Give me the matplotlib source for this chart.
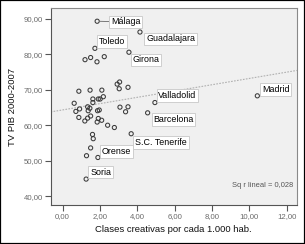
import numpy as np
import matplotlib
matplotlib.use("Agg")
import matplotlib.pyplot as plt
from matplotlib.patches import Rectangle

# ---- data ----
clases_creativas = [
    1.85, 4.14, 1.73, 3.55, 1.20, 1.50, 1.84, 2.23, 2.92, 3.05,
    3.03, 3.50, 0.87, 1.47, 2.10, 2.18, 2.01, 1.91, 1.62, 1.62,
    0.62, 1.34, 1.46, 1.37, 1.87, 1.96, 0.91, 0.71, 3.07, 3.50,
    3.37, 4.55, 4.94, 10.42, 0.87, 1.19, 1.34, 1.50, 1.91, 2.09,
    1.85, 2.41, 2.77, 1.60, 1.64, 1.50, 1.28, 1.89, 1.26, 3.67,
]
tv_pib = [
    89.35, 86.3, 81.7, 80.6, 78.5, 79.1, 77.9, 79.35, 71.6, 72.2,
    70.3, 70.7, 69.6, 69.9, 69.9, 68.05, 67.4, 67.4, 67.4, 66.4,
    66.2, 65.2, 64.8, 64.1, 64.1, 64.3, 64.6, 63.9, 65.1, 65.2,
    63.8, 63.5, 66.4, 68.3, 62.2, 61.2, 62.0, 62.6, 61.9, 61.4,
    60.9, 60.0, 59.35, 57.4, 56.2, 53.6, 51.4, 50.9, 44.8, 57.6,
]
point_names = [
    "Málaga", "Guadalajara", "Toledo", "Girona", "", "", "", "", "", "",
    "", "", "", "", "", "", "", "", "", "",
    "", "", "", "", "", "", "", "", "", "",
    "", "Barcelona", "Valladolid", "Madrid", "", "", "", "", "", "",
    "", "", "", "", "", "", "", "Orense", "Soria", "S.C. Tenerife",
]
x_ticks = [0, 2, 4, 6, 8, 10, 12]
y_ticks = [40, 50, 60, 70, 80, 90]
r2_text = "Sq r lineal = 0,028"
x_title = "Clases creativas por cada 1.000 hab."
y_title = "TV PIB 2000-2007"

# label offsets (points) - styling
label_offsets = {
    "Málaga": (9.9, -0.5), "Guadalajara": (4.4, -5.0), "Toledo": (2.5, 5.0),
    "Girona": (2.7, -5.5), "Valladolid": (2.5, 5.0), "Barcelona": (4.1, -5.0),
    "Madrid": (3.2, 4.6), "S.C. Tenerife": (2.9, -6.5), "Orense": (2.7, 4.5),
    "Soria": (2.9, 5.0),
}

plt.rcParams['font.family'] = ['Liberation Sans', 'DejaVu Sans']

fig = plt.figure(figsize=(3.05, 2.44), dpi=100)
ax = fig.add_axes([0.166, 0.160, 0.807, 0.806])
ax.set_facecolor('#f0f0f0')

x = np.array(clases_creativas)
y = np.array(tv_pib)

# regression line
slope, intercept = np.polyfit(x, y, 1)
xl = np.array([-0.64, 12.53])
ax.plot(xl, intercept + slope * xl, color='#b0b0b0', lw=0.8,
        linestyle=(0, (1.5, 1.2)), zorder=1)

ax.scatter(x, y, s=9, facecolors='none', edgecolors='#3a3a3a',
           linewidths=0.75, zorder=3)

for xi, yi, name in zip(x, y, point_names):
    if not name:
        continue
    dx, dy = label_offsets[name]
    kw = {}
    if name == "Málaga":
        kw['arrowprops'] = dict(arrowstyle='-', color='#666666', lw=0.6,
                                shrinkA=0, shrinkB=2)
    ax.annotate(name, (xi, yi), xytext=(dx, dy), textcoords='offset points',
                ha='left', va='center', fontsize=6.4, color='#000000',
                bbox=dict(boxstyle='square,pad=0.2', fc='white',
                          ec='#c8c8c8', lw=0.6), zorder=4, **kw)

ax.set_xlim(-0.64, 12.53)
ax.set_ylim(37.5, 93.0)
ax.set_xticks(x_ticks)
ax.set_yticks(y_ticks)
ax.set_xticklabels([f"{v:.2f}".replace('.', ',') for v in x_ticks])
ax.set_yticklabels([f"{v:.2f}".replace('.', ',') for v in y_ticks])
ax.tick_params(direction='out', length=4, width=0.8, color='#555555',
               labelsize=5.6, labelcolor='#6a6a6a', pad=1.5)
for s in ax.spines.values():
    s.set_color('#8a8a8a')
    s.set_linewidth(0.8)
ax.spines['left'].set_color('#555555')
ax.spines['bottom'].set_color('#555555')

ax.set_xlabel(x_title, fontsize=6.8, color='#111111', labelpad=4)
ax.set_ylabel(y_title, fontsize=6.8, color='#111111', labelpad=5)

ax.text(0.985, 0.1, r2_text, transform=ax.transAxes, ha='right',
        va='center', fontsize=5.4, color='#555555')

fig.patches.append(Rectangle((0, 0), 1, 1, transform=fig.transFigure,
                             fill=False, ec='black', lw=1.6))

fig.savefig('out.png', dpi=100)
